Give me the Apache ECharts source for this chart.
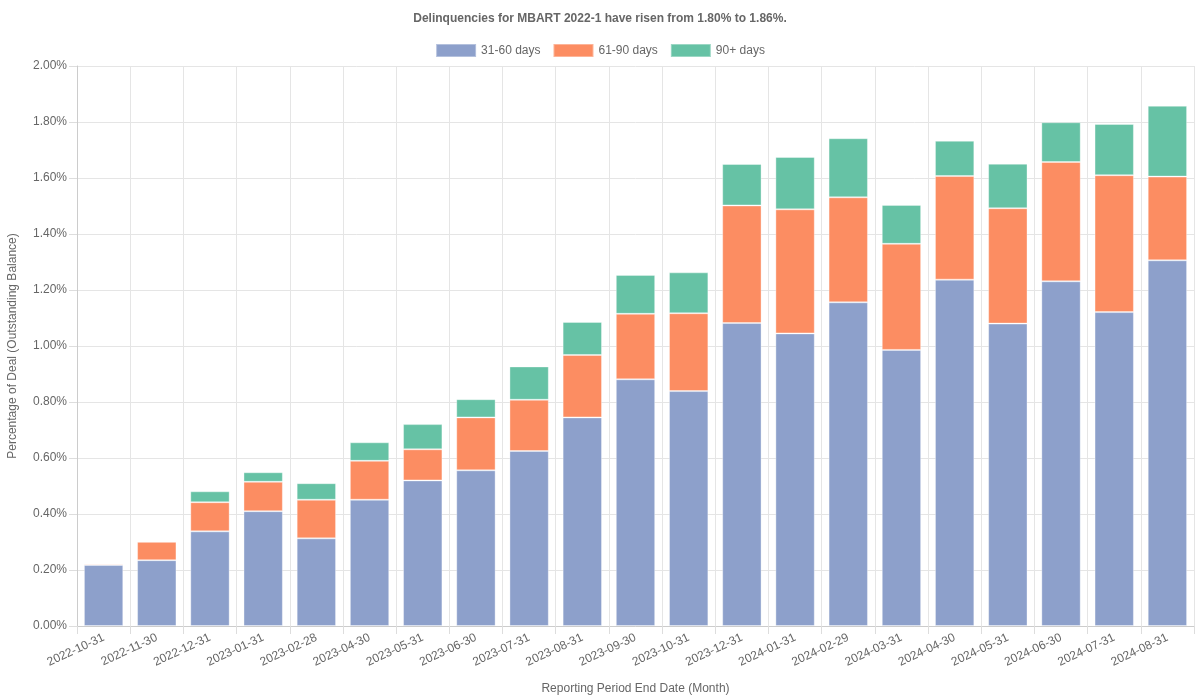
<!DOCTYPE html>
<html>
<head>
<meta charset="utf-8">
<script src="https://cdn.jsdelivr.net/npm/echarts@6/dist/echarts.min.js"></script>
<style>html,body{margin:0;padding:0;background:#fff}#c{width:1200px;height:700px}</style>
</head>
<body>
<div id="c"></div>
<script>
const categories = ["2022-10-31","2022-11-30","2022-12-31","2023-01-31","2023-02-28","2023-04-30","2023-05-31","2023-06-30","2023-07-31","2023-08-31","2023-09-30","2023-10-31","2023-12-31","2024-01-31","2024-02-29","2024-03-31","2024-04-30","2024-05-31","2024-06-30","2024-07-31","2024-08-31"];
const d31_60 = [0.218,0.235,0.338,0.410,0.313,0.451,0.520,0.556,0.625,0.745,0.881,0.839,1.082,1.045,1.156,0.986,1.237,1.080,1.231,1.121,1.306];
const d61_90 = [0.004,0.066,0.104,0.105,0.138,0.139,0.111,0.189,0.183,0.223,0.234,0.278,0.420,0.443,0.375,0.379,0.370,0.412,0.426,0.489,0.299];
const d90p   = [0.000,0.000,0.039,0.034,0.059,0.066,0.090,0.065,0.119,0.118,0.139,0.146,0.148,0.187,0.211,0.139,0.126,0.159,0.142,0.183,0.253];
const seriesNames = ["31-60 days","61-90 days","90+ days"];
const colors = ["#8DA0CB","#FC8D62","#66C2A5"];
const titleText = "Delinquencies for MBART 2022-1 have risen from 1.80% to 1.86%.";

const font = "'Liberation Sans', Arial, sans-serif";
const chart = echarts.init(document.getElementById('c'), null, {renderer:'canvas'});
const mk = (name, data, i) => ({
  name, type:'bar', stack:'total', data,
  barCategoryGap:'26%',
  itemStyle:{color:colors[i], borderColor:'rgba(255,255,255,0.35)', borderWidth:1},
  emphasis:{disabled:true}
});
chart.setOption({
  animation:false,
  textStyle:{fontFamily:font},
  title:{text:titleText, left:'center', top:8, textStyle:{fontSize:12, fontWeight:'bold', color:'#666', fontFamily:font}},
  legend:{top:38, left:'center', itemWidth:40, itemHeight:13, itemGap:12, icon:'rect',
    textStyle:{fontSize:12, color:'#666', fontFamily:font}, data:seriesNames},
  grid:{left:77, right:6, top:66, bottom:74, containLabel:false, outerBoundsMode:'none'},
  xAxis:{type:'category', data:categories,
    name:'Reporting Period End Date (Month)', nameLocation:'middle', nameGap:57,
    nameTextStyle:{fontSize:12, color:'#666'},
    axisLine:{lineStyle:{color:'#ccc'}},
    axisTick:{show:true, length:8, lineStyle:{color:'#ddd'}},
    splitLine:{show:true, lineStyle:{color:'#e5e5e5'}},
    axisLabel:{rotate:25, fontSize:12, color:'#666', margin:11, interval:0}},
  yAxis:{type:'value', min:0, max:2, interval:0.2,
    name:'Percentage of Deal (Outstanding Balance)', nameLocation:'middle', nameGap:58,
    nameTextStyle:{fontSize:12, color:'#666'},
    axisLine:{show:true, lineStyle:{color:'#ccc'}},
    axisTick:{show:true, length:8, lineStyle:{color:'#ddd'}},
    splitLine:{show:true, lineStyle:{color:'#e5e5e5'}},
    axisLabel:{fontSize:12, color:'#666', margin:10, formatter:v=>v.toFixed(2)+'%'}},
  series:[mk(seriesNames[0], d31_60, 0), mk(seriesNames[1], d61_90, 1), mk(seriesNames[2], d90p, 2)]
});
</script>
</body>
</html>
